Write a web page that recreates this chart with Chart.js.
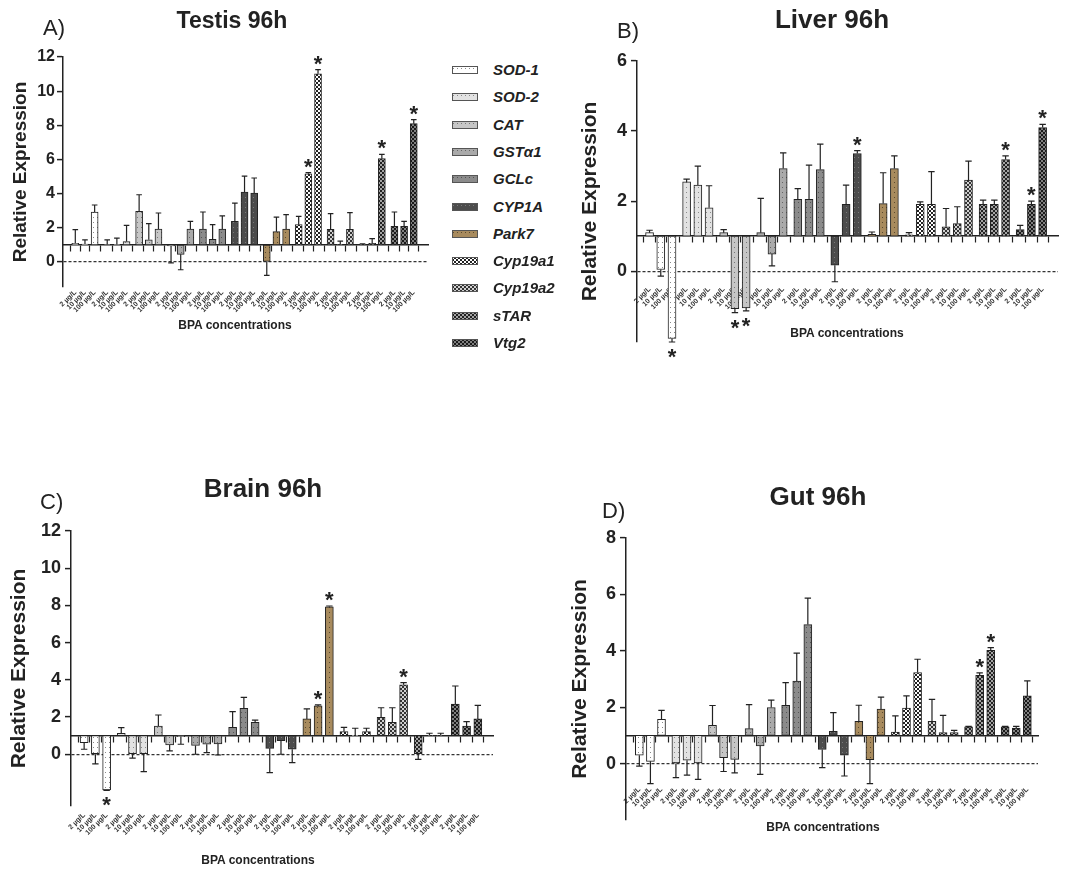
<!DOCTYPE html>
<html>
<head>
<meta charset="utf-8">
<script src="https://cdn.jsdelivr.net/npm/chart.js@4.4.1/dist/chart.umd.min.js"></script>
<style>
  body { margin: 0; background: #fff; width: 1066px; height: 875px; overflow: hidden; position: relative;
         font-family: "Liberation Sans", Arial, sans-serif; color: #222; }
  canvas { position: absolute; }
  .t { position: absolute; white-space: nowrap; line-height: 1; transform: translate(-50%, -50%); }
  .title { font-weight: bold; }
  .letter { font-size: 22px; transform: translate(0, -50%); }
  .xt { font-size: 12px; font-weight: bold; }
  .li { position: absolute; left: 452px; height: 16px; white-space: nowrap;
        font: italic bold 15px "Liberation Sans", Arial, sans-serif; }
  .li canvas { position: absolute; left: 0; top: 4px; }
  .li span { position: absolute; left: 41px; top: 0; line-height: 16px; }
</style>
</head>
<body>

<canvas id="cA" width="440" height="330" style="left:0px;top:0px"></canvas>
<canvas id="cB" width="521" height="360" style="left:545px;top:0px"></canvas>
<canvas id="cC" width="520" height="405" style="left:0px;top:470px"></canvas>
<canvas id="cD" width="521" height="405" style="left:545px;top:470px"></canvas>

<div class="t letter" style="left:43px;top:28px">A)</div>
<div class="t title" style="left:232px;top:20px;font-size:23px">Testis 96h</div>
<div class="t xt" style="left:235px;top:325px">BPA concentrations</div>

<div class="t letter" style="left:617px;top:31px">B)</div>
<div class="t title" style="left:832px;top:19px;font-size:26px">Liver 96h</div>
<div class="t xt" style="left:847px;top:333px">BPA concentrations</div>

<div class="t letter" style="left:40px;top:502px">C)</div>
<div class="t title" style="left:263px;top:488px;font-size:26px">Brain 96h</div>
<div class="t xt" style="left:258px;top:860px">BPA concentrations</div>

<div class="t letter" style="left:602px;top:511px">D)</div>
<div class="t title" style="left:818px;top:496px;font-size:26px">Gut 96h</div>
<div class="t xt" style="left:823px;top:827px">BPA concentrations</div>

<div id="legend"></div>

<script>
const FONT = '"Liberation Sans", Arial, sans-serif';

// genes and BPA doses (3 bars per gene)
const genes = ['SOD-1', 'SOD-2', 'CAT', 'GSTα1', 'GCLc', 'CYP1A', 'Park7', 'Cyp19a1', 'Cyp19a2', 'sTAR', 'Vtg2'];
const doses = ['2 µg/L', '10 µg/L', '100 µg/L'];

// relative expression, gene by gene, 2 / 10 / 100 µg/L
const testisMean = [1.10, 1.05, 2.93, 1.02, 1.03, 1.20, 2.97, 1.30, 1.93, 0.94, 0.45, 1.93,
                    1.93, 1.33, 1.93, 2.38, 4.10, 4.04, 0.00, 1.78, 1.93, 2.19, 5.17, 11.02,
                    1.91, 1.02, 1.91, 1.03, 1.10, 6.05, 2.09, 2.09, 8.10];
const testisErr  = [0.80, 0.25, 0.41, 0.28, 0.37, 0.95, 0.97, 0.95, 0.94, 0.99, 0.90, 0.45,
                    1.00, 0.86, 0.77, 1.07, 0.93, 0.88, 0.78, 0.85, 0.84, 0.48, 0.06, 0.24,
                    0.92, 0.21, 0.98, 0.04, 0.27, 0.25, 0.84, 0.29, 0.23];
const testisStars = [22, 23, 29, 32];

const liverMean = [1.10, 0.05, -1.92, 2.55, 2.46, 1.81, 1.10, -1.07, -1.05, 1.10, 0.49, 2.93,
                   2.05, 2.05, 2.90, 0.17, 1.91, 3.36, 1.05, 1.93, 2.93, 1.04, 1.91, 1.91,
                   1.27, 1.36, 2.60, 1.91, 1.91, 3.19, 1.19, 1.91, 4.10];
const liverErr  = [0.07, 0.19, 0.10, 0.08, 0.54, 0.63, 0.09, 0.11, 0.08, 0.98, 0.34, 0.45,
                   0.31, 0.98, 0.73, 0.47, 0.55, 0.08, 0.07, 0.88, 0.36, 0.06, 0.07, 0.93,
                   0.52, 0.48, 0.54, 0.12, 0.12, 0.10, 0.12, 0.09, 0.09];
const liverStars = [2, 7, 8, 17, 29, 31, 32];

const brainMean = [0.63, 0.00, -1.92, 1.13, 0.00, 0.00, 1.52, 0.50, 0.95, 0.47, 0.54, 0.56,
                   1.45, 2.47, 1.72, 0.32, 0.73, 0.27, 1.90, 2.60, 7.93, 1.22, 1.02, 1.22,
                   1.99, 1.72, 3.73, 0.00, 1.02, 1.02, 2.70, 1.52, 1.90];
const brainErr  = [0.36, 0.52, 0.02, 0.30, 0.21, 0.93, 0.59, 0.32, 0.41, 0.47, 0.45, 0.60,
                   0.84, 0.59, 0.12, 1.31, 0.73, 0.72, 0.54, 0.05, 0.04, 0.23, 0.38, 0.18,
                   0.51, 0.78, 0.12, 0.27, 0.11, 0.11, 0.97, 0.23, 0.73];
const brainStars = [2, 19, 20, 26];

const gutMean = [0.30, 0.08, 1.57, 0.00, 0.12, 0.02, 1.36, 0.21, 0.15, 1.24, 0.63, 1.99,
                 2.07, 2.93, 4.93, 0.50, 1.14, 0.30, 1.50, 0.14, 1.93, 1.12, 1.97, 3.23,
                 1.50, 1.10, 1.10, 1.30, 3.13, 4.02, 1.30, 1.26, 2.40];
const gutErr  = [0.39, 0.79, 0.32, 0.50, 0.53, 0.58, 0.70, 0.49, 0.48, 0.85, 1.01, 0.26,
                 0.80, 0.99, 0.94, 0.64, 0.67, 0.74, 0.57, 0.85, 0.43, 0.57, 0.43, 0.47,
                 0.78, 0.61, 0.08, 0.02, 0.09, 0.09, 0.02, 0.06, 0.53];
const gutStars = [28, 29];

// y axis tick labels
const ticksTo12 = [0, 2, 4, 6, 8, 10, 12];
const ticksTo6 = [0, 2, 4, 6];
const ticksTo8 = [0, 2, 4, 6, 8];

// x position of each bar: groups of three with a small gap
const xPos = [];
genes.forEach((g, gi) => doses.forEach((d, di) => xPos.push(gi * 3.3 + di)));

// bar fills
function tile(w, h, draw) {
  const c = document.createElement('canvas');
  c.width = w; c.height = h;
  draw(c.getContext('2d'));
  return c.getContext('2d').createPattern(c, 'repeat');
}
function dotted(bg, dot) {
  return tile(4, 5, (g) => { g.fillStyle = bg; g.fillRect(0, 0, 4, 5); g.fillStyle = dot; g.fillRect(1, 2, 1, 1); });
}
function checker(dark, light) {
  return tile(4, 4, (g) => {
    g.fillStyle = dark; g.fillRect(0, 0, 4, 4);
    g.fillStyle = light; g.fillRect(0, 0, 2, 2); g.fillRect(2, 2, 2, 2);
  });
}
const fills = [
  dotted('#ffffff', '#8a8a8a'),
  dotted('#e2e2e2', '#8a8a8a'),
  dotted('#c6c6c6', '#777777'),
  dotted('#aaaaaa', '#666666'),
  dotted('#8b8b8b', '#555555'),
  dotted('#4c4c4c', '#7a7a7a'),
  dotted('#a88b5e', '#5a4a30'),
  checker('#222222', '#ffffff'),
  checker('#333333', '#d0d0d0'),
  checker('#222222', '#a4a4a4'),
  checker('#1a1a1a', '#808080')
];

// error bars and significance stars
function errorPlugin(p) {
  return {
    id: 'errorBars',
    afterDatasetsDraw(chart) {
      const ctx = chart.ctx, y = chart.scales.y;
      ctx.save();
      ctx.strokeStyle = '#222';
      ctx.fillStyle = '#222';
      ctx.lineWidth = 1.2;
      ctx.font = 'bold 22px ' + FONT;
      ctx.textAlign = 'center';
      ctx.textBaseline = 'middle';
      chart.data.datasets.forEach((ds, gi) => {
        chart.getDatasetMeta(gi).data.forEach((bar, di) => {
          const k = gi * 3 + di;
          const m = p.mean[k], e = p.err[k];
          const dir = m >= 1 ? 1 : -1;
          const y0 = y.getPixelForValue(m);
          const y1 = y.getPixelForValue(m + dir * e);
          const cap = p.barW * 0.4;
          ctx.beginPath();
          ctx.moveTo(bar.x, y0); ctx.lineTo(bar.x, y1);
          ctx.moveTo(bar.x - cap, y1); ctx.lineTo(bar.x + cap, y1);
          ctx.stroke();
          if (p.stars.includes(k)) {
            const cy = dir > 0 ? y1 - 10 : y1 + 11;
            ctx.fillText('*', bar.x, cy + 5);
          }
        });
      });
      ctx.restore();
    }
  };
}

function makeChart(p) {
  const datasets = genes.map((g, gi) => ({
    label: g,
    data: doses.map((d, di) => ({ x: xPos[gi * 3 + di], y: [1, p.mean[gi * 3 + di]] })),
    backgroundColor: fills[gi],
    borderColor: '#222',
    borderWidth: 1,
    borderSkipped: false,
    barThickness: p.barW,
    grouped: false
  }));
  const setX = (ax) => { ax.ticks = xPos.map(v => ({ value: v })); };

  return new Chart(document.getElementById(p.id), {
    type: 'bar',
    data: { datasets },
    options: {
      responsive: false,
      animation: false,
      devicePixelRatio: 1,
      layout: { padding: p.pad },
      plugins: { legend: { display: false }, tooltip: { enabled: false } },
      scales: {
        x: {
          type: 'linear', min: p.xMin, max: p.xMax, position: { y: 1 },
          afterBuildTicks: setX,
          ticks: { display: false },
          grid: { display: true, drawOnChartArea: false, drawTicks: true, tickLength: 6, tickColor: '#222', tickWidth: 1.2 },
          border: { display: true, color: '#222', width: 1.5 }
        },
        x2: {
          type: 'linear', min: p.xMin, max: p.xMax, position: { y: p.labelY },
          afterBuildTicks: setX,
          ticks: {
            autoSkip: false, minRotation: 45, maxRotation: 45, padding: 0,
            font: { family: FONT, size: 7, weight: 'bold' }, color: '#333',
            callback: (v, i) => doses[i % 3]
          },
          grid: { display: false, drawTicks: false },
          border: { display: false }
        },
        y: {
          min: p.yMin, max: p.yMax,
          afterBuildTicks: (ax) => { ax.ticks = p.yTicks.map(v => ({ value: v })); },
          afterFit: (ax) => { ax.width = p.yAxisW; },
          ticks: { font: { family: FONT, size: p.tickFont, weight: 'bold' }, color: '#222', padding: p.tickPad },
          grid: {
            color: (c) => (c.tick && c.tick.value === 0 ? '#333' : 'rgba(0,0,0,0)'),
            lineWidth: 1.2, drawTicks: true, tickLength: 6, tickColor: '#222', tickWidth: 1.5, tickBorderDash: []
          },
          border: { display: true, color: '#222', width: 1.5, dash: [3, 2] },
          title: {
            display: true, text: 'Relative Expression', color: '#222',
            font: { family: FONT, size: p.titleFont, weight: 'bold' },
            padding: { top: p.titlePad, bottom: 0 }
          }
        }
      }
    },
    plugins: [errorPlugin(p)]
  });
}

const panels = [
  { id: 'cA', mean: testisMean, err: testisErr, stars: testisStars, yTicks: ticksTo12,
    yMin: -1.46, yMax: 12, xMin: -0.7, xMax: 35.9, labelY: -1.54, barW: 7,
    yAxisW: 63, pad: { left: 0, right: 12, top: 57, bottom: 43 }, tickFont: 16, tickPad: 2, titleFont: 19, titlePad: 9 },
  { id: 'cB', mean: liverMean, err: liverErr, stars: liverStars, yTicks: ticksTo6,
    yMin: -2.02, yMax: 6, xMin: -0.55, xMax: 35.8, labelY: -0.4, barW: 8,
    yAxisW: 92, pad: { left: 0, right: 8, top: 61, bottom: 18 }, tickFont: 18, tickPad: 4, titleFont: 21, titlePad: 33 },
  { id: 'cC', mean: brainMean, err: brainErr, stars: brainStars, yTicks: ticksTo12,
    yMin: -2.78, yMax: 12, xMin: -0.6, xMax: 35.78, labelY: -3.05, barW: 8,
    yAxisW: 71, pad: { left: 0, right: 27, top: 61, bottom: 69 }, tickFont: 18, tickPad: 4, titleFont: 21, titlePad: 7 },
  { id: 'cD', mean: gutMean, err: gutErr, stars: gutStars, yTicks: ticksTo8,
    yMin: -2.0, yMax: 8, xMin: -0.64, xMax: 35.4, labelY: -0.77, barW: 8,
    yAxisW: 81, pad: { left: 0, right: 28, top: 68, bottom: 55 }, tickFont: 18, tickPad: 4, titleFont: 21, titlePad: 23 }
];
panels.forEach(makeChart);

// legend
const legend = document.getElementById('legend');
genes.forEach((g, gi) => {
  const item = document.createElement('div');
  item.className = 'li';
  item.style.top = (70 + gi * 27.3 - 8) + 'px';
  const sw = document.createElement('canvas');
  sw.width = 26; sw.height = 8;
  const c = sw.getContext('2d');
  c.fillStyle = fills[gi]; c.fillRect(0, 0, 26, 8);
  c.strokeStyle = '#555'; c.lineWidth = 1; c.strokeRect(0.5, 0.5, 25, 7);
  const txt = document.createElement('span');
  txt.textContent = g;
  item.appendChild(sw);
  item.appendChild(txt);
  legend.appendChild(item);
});
</script>
</body>
</html>
